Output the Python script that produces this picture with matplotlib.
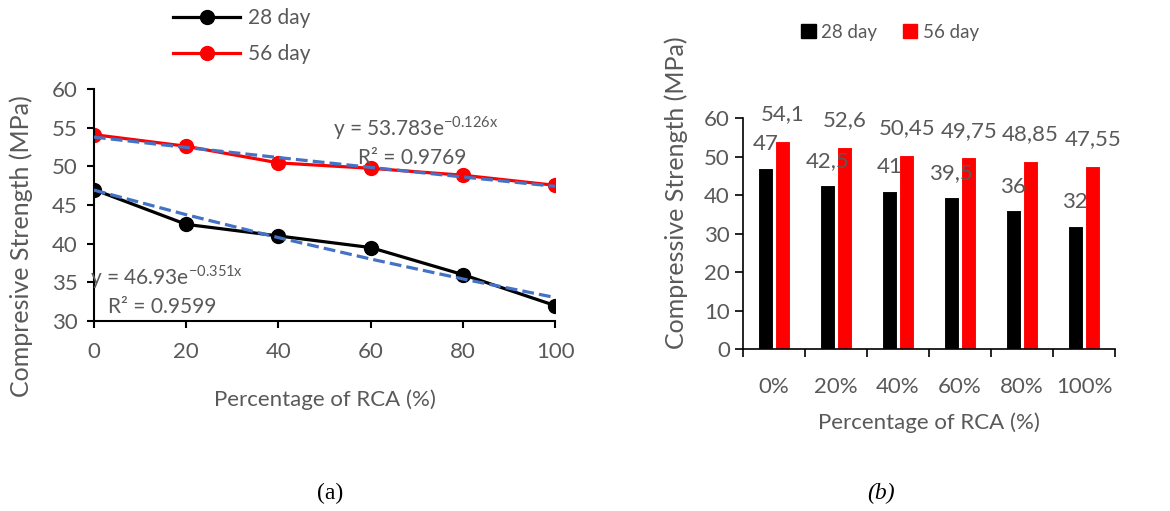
import numpy as np
import matplotlib
matplotlib.use("Agg")
import matplotlib.pyplot as plt
from matplotlib.lines import Line2D
from matplotlib.patches import Patch

plt.rcParams['font.family'] = ['Lato', 'DejaVu Sans']
plt.rcParams['mathtext.fontset'] = 'custom'
plt.rcParams['mathtext.rm'] = 'Lato'

# data
rca = [0, 20, 40, 60, 80, 100]
rca_labels = ['0%', '20%', '40%', '60%', '80%', '100%']
day28 = [47, 42.5, 41, 39.5, 36, 32]
day56 = [54.1, 52.6, 50.45, 49.75, 48.85, 47.55]
day28_labels = ['47', '42,5', '41', '39,5', '36', '32']
day56_labels = ['54,1', '52,6', '50,45', '49,75', '48,85', '47,55']
# exponential trendlines y = a*exp(b*x), x as fraction of RCA
fit28 = (46.93, -0.351)
fit56 = (53.783, -0.126)

grey = '#595959'
blue = '#4472C4'
fs = 16

fig = plt.figure(figsize=(11.70, 5.11), dpi=100)

# ---- (a) line chart
ax1 = fig.add_axes([0.0803, 0.3718, 0.3941, 0.454])
x = np.array(rca)
ax1.plot(x, fit56[0] * np.exp(fit56[1] * x / 100), '--', color=blue, lw=2.3, zorder=3)
ax1.plot(x, fit28[0] * np.exp(fit28[1] * x / 100), '--', color=blue, lw=2.3, zorder=3)
ax1.plot(rca, day28, 'o-', color='black', lw=2.3, ms=10, zorder=2)
ax1.plot(rca, day56, 'o-', color='red', lw=2.3, ms=10, zorder=2)
ax1.set_xlim(0, 100)
ax1.set_ylim(30, 60)
ax1.set_xticks(rca)
ax1.set_yticks(range(30, 61, 5))
for s in ['top', 'right']:
    ax1.spines[s].set_visible(False)
for s in ['left', 'bottom']:
    ax1.spines[s].set_linewidth(1.5)
ax1.tick_params(direction='out', length=5, width=1.5, labelsize=fs, labelcolor=grey)
ax1.tick_params(axis='x', pad=10)
ax1.tick_params(axis='y', pad=7)
ax1.set_xlabel('Percentage of RCA (%)', fontsize=fs, color=grey, labelpad=20)
ax1.set_ylabel('Compresive Strength (MPa)', fontsize=18, color=grey)
ax1.yaxis.set_label_coords(-0.132, 0.323)
ax1.text(51.8, 55.0, r'y = 53.783e$^{\mathregular{-0.126x}}$', fontsize=15, color=grey, va='center')
ax1.text(57.3, 51.1, 'R² = 0.9769', fontsize=15, color=grey, va='center')
ax1.text(-0.9, 35.7, r'y = 46.93e$^{\mathregular{-0.351x}}$', fontsize=15, color=grey, va='center')
ax1.text(3.0, 31.8, 'R² = 0.9599', fontsize=15, color=grey, va='center')

h1 = [Line2D([], [], color='black', marker='o', lw=2.3, ms=10),
      Line2D([], [], color='red', marker='o', lw=2.3, ms=10)]
fig.legend(h1, ['28 day', '56 day'], loc='center', bbox_to_anchor=(0.207, 0.929),
           frameon=False, fontsize=15, labelcolor=grey, handlelength=3.2,
           labelspacing=0.75, handletextpad=0.4)

# ---- (b) bar chart
ax2 = fig.add_axes([0.635, 0.317, 0.318, 0.452])
pos = np.arange(len(rca_labels))
b28 = ax2.bar(pos - 0.14, day28, width=0.24, color='black', edgecolor='white', lw=0.8)
b56 = ax2.bar(pos + 0.14, day56, width=0.24, color='red', edgecolor='white', lw=0.8)
for rect, lab in zip(b28, day28_labels):
    ax2.annotate(lab, (rect.get_x() + rect.get_width() / 2, rect.get_height()),
                 xytext=(0, 10), textcoords='offset points', ha='center', va='bottom',
                 fontsize=fs, color=grey)
for rect, lab in zip(b56, day56_labels):
    ax2.annotate(lab, (rect.get_x() + rect.get_width() / 2, rect.get_height()),
                 xytext=(0, 12), textcoords='offset points', ha='center', va='bottom',
                 fontsize=fs, color=grey)
ax2.set_xlim(-0.5, len(rca_labels) - 0.5)
ax2.set_ylim(0, 60)
ax2.set_yticks(range(0, 61, 10))
ax2.set_xticks(pos)
ax2.set_xticklabels(rca_labels)
ax2.set_xticks(np.arange(-0.5, len(rca_labels)), minor=True)
ax2.tick_params(axis='x', which='major', length=0, labelsize=fs, labelcolor=grey, pad=20)
ax2.tick_params(axis='x', which='minor', direction='out', length=6, width=1.2)
ax2.tick_params(axis='y', direction='out', length=6, width=1.2, labelsize=fs, labelcolor=grey)
for s in ['top', 'right']:
    ax2.spines[s].set_visible(False)
for s in ['left', 'bottom']:
    ax2.spines[s].set_linewidth(1.2)
ax2.set_xlabel('Percentage of RCA (%)', fontsize=fs, color=grey, labelpad=11)
ax2.set_ylabel('Compressive Strength (MPa)', fontsize=18, color=grey)
ax2.yaxis.set_label_coords(-0.148, 0.675)

h2 = [Patch(color='black'), Patch(color='red')]
fig.legend(h2, ['28 day', '56 day'], loc='center', bbox_to_anchor=(0.761, 0.937),
           ncol=2, frameon=False, fontsize=13.5, labelcolor=grey, handlelength=0.75,
           handleheight=0.75, handletextpad=0.3, columnspacing=1.4)

# captions
fig.text(0.282, 0.035, '(a)', fontsize=17, family='Liberation Serif', ha='center', va='center')
fig.text(0.753, 0.035, '(b)', fontsize=17, family='Liberation Serif', style='italic',
         ha='center', va='center')

fig.savefig('out.png', dpi=100)
